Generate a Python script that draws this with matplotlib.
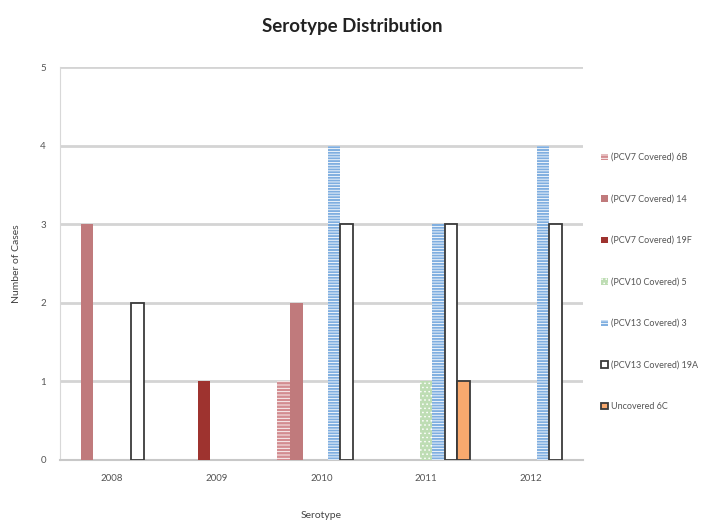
import matplotlib.pyplot as plt
import numpy as np

# Data
years = ["2008", "2009", "2010", "2011", "2012"]
series_names = ["(PCV7 Covered) 6B", "(PCV7 Covered) 14", "(PCV7 Covered) 19F",
                "(PCV10 Covered) 5", "(PCV13 Covered) 3", "(PCV13 Covered) 19A",
                "Uncovered 6C"]
s_6b = [0, 0, 1, 0, 0]
s_14 = [3, 0, 2, 0, 0]
s_19f = [0, 1, 0, 0, 0]
s_5 = [0, 0, 0, 1, 0]
s_3 = [0, 0, 4, 3, 4]
s_19a = [2, 0, 3, 3, 3]
s_6c = [0, 0, 0, 1, 0]
all_series = [s_6b, s_14, s_19f, s_5, s_3, s_19a, s_6c]

# styles: facecolor, edgecolor (also hatch colour), hatch, linewidth
styles = [
    ("#D38C90", "white", "-----", 0),
    ("#C07A7C", "#C07A7C", None, 0),
    ("#9E332F", "#9E332F", None, 0),
    ("#BEDDB4", "white", "....", 0),
    ("#7FAEE0", "white", "------", 0),
    ("white", "#3A3A3A", None, 1.3),
    ("#F8A96E", "#3A3A3A", None, 1.3),
]

plt.rcParams['hatch.linewidth'] = 0.6
plt.rcParams['font.family'] = ['Lato', 'DejaVu Sans']

fig = plt.figure(figsize=(7.04, 5.25), dpi=100)
ax = fig.add_axes([0.085, 0.124, 0.743, 0.748])

x = np.arange(len(years))
width = 0.12
for i, (vals, name, st) in enumerate(zip(all_series, series_names, styles)):
    fc, ec, hatch, lw = st
    # empty cells are not drawn in the original
    heights = np.where(np.array(vals) == 0, np.nan, vals)
    ax.bar(x + (i - 3) * width, heights, width, color=fc, edgecolor=ec,
           hatch=hatch, linewidth=lw, label=name, zorder=3)

ax.set_xlim(-0.5, 4.5)
ax.set_ylim(0, 5)
ax.set_yticks(range(6))
ax.set_xticks(x)
ax.set_xticklabels(years)
ax.grid(axis='y', color='#D4D4D4', linewidth=2, zorder=0)
ax.tick_params(axis='both', length=0, labelsize=7, colors='#555555', pad=10)
for side in ['top', 'right']:
    ax.spines[side].set_visible(False)
ax.spines['left'].set_color('#D8D8D8')
ax.spines['bottom'].set_color('#C8C8C8')
ax.spines['bottom'].set_linewidth(1.5)

ax.set_xlabel("Serotype", fontsize=7.5, color='#444444', labelpad=20)
ax.set_ylabel("Number of Cases", fontsize=7.5, color='#444444', labelpad=14)
fig.suptitle("Serotype Distribution", fontsize=13.5, fontweight='bold',
             y=0.965, color='#222222')

ax.legend(loc='center left', bbox_to_anchor=(1.02, 0.453), frameon=False,
          fontsize=6.5, labelspacing=3.6,
          handlelength=0.7, handleheight=0.7, handletextpad=0.4,
          labelcolor='#555555')

fig.savefig("out.png", dpi=100)
